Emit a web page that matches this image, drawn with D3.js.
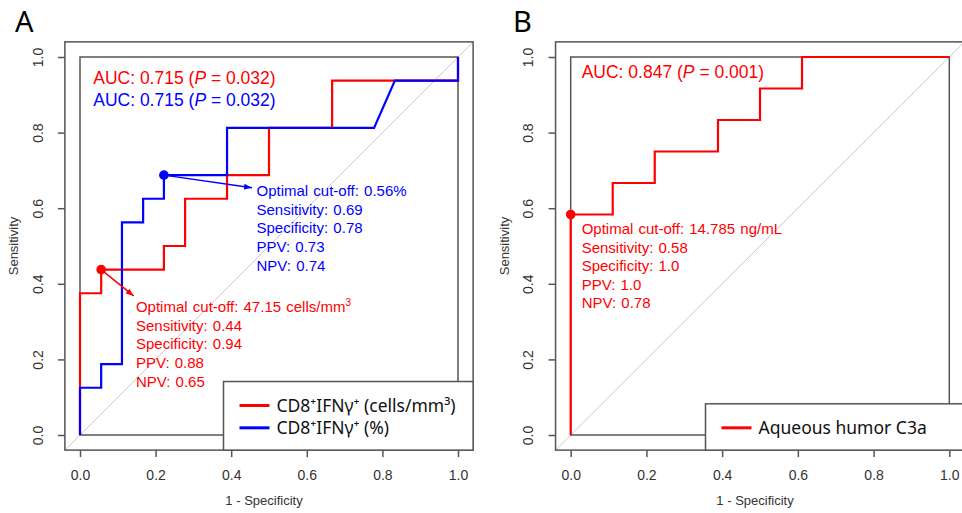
<!DOCTYPE html>
<html>
<head>
<meta charset="utf-8">
<script src="https://cdn.jsdelivr.net/npm/d3@7"></script>
<style>
  body { margin: 0; background: #fff; }
  svg { display: block; }
  text { font-family: "Liberation Sans", Arial, sans-serif; }
</style>
</head>
<body>
<svg id="chart" width="962" height="513"></svg>
<script>
// axis ticks shared by both panels
var axisTicks = [0, 0.2, 0.4, 0.6, 0.8, 1.0];

// panel A, CD8+IFNg+ (cells/mm3)
var cellsFpr  = [0, 0, 0.056, 0.056, 0.222, 0.222, 0.278, 0.278, 0.389, 0.389, 0.5, 0.5, 0.667, 0.667, 1, 1];
var cellsSens = [0, 0.375, 0.375, 0.4375, 0.4375, 0.5, 0.5, 0.625, 0.625, 0.6875, 0.6875, 0.8125, 0.8125, 0.9375, 0.9375, 1];
var cellsCut  = [0.056, 0.4375];

// panel A, CD8+IFNg+ (%)
var pctFpr  = [0, 0, 0.056, 0.056, 0.111, 0.111, 0.167, 0.167, 0.222, 0.222, 0.389, 0.389, 0.778, 0.833, 1, 1];
var pctSens = [0, 0.125, 0.125, 0.1875, 0.1875, 0.5625, 0.5625, 0.625, 0.625, 0.6875, 0.6875, 0.8125, 0.8125, 0.9375, 0.9375, 1];
var pctCut  = [0.222, 0.6875];

// panel B, aqueous humor C3a
var c3aFpr  = [0, 0, 0.111, 0.111, 0.222, 0.222, 0.389, 0.389, 0.5, 0.5, 0.611, 0.611, 1];
var c3aSens = [0, 0.5833, 0.5833, 0.6667, 0.6667, 0.75, 0.75, 0.8333, 0.8333, 0.9167, 0.9167, 1, 1];
var c3aCut  = [0, 0.5833];

var cellsInfo = ["Optimal cut-off: 47.15 cells/mm|3", "Sensitivity: 0.44", "Specificity: 0.94", "PPV: 0.88", "NPV: 0.65"];
var pctInfo   = ["Optimal cut-off: 0.56%", "Sensitivity: 0.69", "Specificity: 0.78", "PPV: 0.73", "NPV: 0.74"];
var c3aInfo   = ["Optimal cut-off: 14.785 ng/mL", "Sensitivity: 0.58", "Specificity: 1.0", "PPV: 1.0", "NPV: 0.78"];

var RED = "#ff0000", BLUE = "#0000ff", BOX = "#555555";

var svg = d3.select("#chart");

function arrowMarker(id, color) {
    svg.append("defs").append("marker")
        .attr("id", id)
        .attr("markerUnits", "userSpaceOnUse")
        .attr("viewBox", "0 -4 8 8")
        .attr("refX", 8).attr("refY", 0)
        .attr("markerWidth", 8).attr("markerHeight", 8)
        .attr("orient", "auto")
      .append("path")
        .attr("d", "M0,-3L8,0L0,3Z")
        .attr("fill", color);
}
arrowMarker("arrowRed", RED);
arrowMarker("arrowBlue", BLUE);

function drawPanel(p) {
    var g = svg.append("g");
    var x = d3.scaleLinear().domain([0, 1]).range([p.left, p.right]);
    var y = d3.scaleLinear().domain([0, 1]).range([p.bottom, p.top]);
    var lo = -0.04, hi = 1.04;

    var clipId = "clip" + p.name;
    g.append("clipPath").attr("id", clipId).append("rect")
        .attr("x", x(lo)).attr("y", y(hi))
        .attr("width", x(hi) - x(lo)).attr("height", y(lo) - y(hi));

    // panel letter
    g.append("text")
        .attr("x", p.letterX).attr("y", 32)
        .style("font-family", "'Noto Sans', sans-serif")
        .style("font-size", "29px")
        .text(p.name);

    // chance line
    g.append("line")
        .attr("clip-path", "url(#" + clipId + ")")
        .attr("x1", x(lo)).attr("y1", y(lo))
        .attr("x2", x(hi + 0.2)).attr("y2", y(hi + 0.2))
        .attr("stroke", "#c8c8c8").attr("stroke-width", 1);

    // inner 0..1 frame
    g.append("rect")
        .attr("x", x(0)).attr("y", y(1))
        .attr("width", x(1) - x(0)).attr("height", y(0) - y(1))
        .attr("fill", "none").attr("stroke", BOX).attr("stroke-width", 1.5);

    // outer plot box
    g.append("rect")
        .attr("x", x(lo)).attr("y", y(hi))
        .attr("width", x(hi) - x(lo)).attr("height", y(lo) - y(hi))
        .attr("fill", "none").attr("stroke", BOX).attr("stroke-width", 1.5);

    // axes
    var xAxis = g.append("g")
        .attr("transform", "translate(0," + y(lo) + ")")
        .call(d3.axisBottom(x).tickValues(axisTicks).tickFormat(d3.format(".1f")).tickSize(7));
    xAxis.select(".domain").remove();
    xAxis.selectAll("line").attr("stroke", BOX).attr("stroke-width", 1.5);
    xAxis.selectAll("text").attr("y", 20).attr("dy", "0.71em")
        .style("font-size", "14px").attr("fill", "#333");

    var yAxis = g.append("g")
        .attr("transform", "translate(" + x(lo) + ",0)")
        .call(d3.axisLeft(y).tickValues(axisTicks).tickFormat(d3.format(".1f")).tickSize(7));
    yAxis.select(".domain").remove();
    yAxis.selectAll("line").attr("stroke", BOX).attr("stroke-width", 1.5);
    yAxis.selectAll("text")
        .attr("x", null)
        .attr("text-anchor", "middle")
        .attr("transform", "translate(-27,0) rotate(-90)")
        .attr("dy", "0.35em")
        .style("font-size", "14px").attr("fill", "#333");

    g.append("text")
        .attr("x", (x(lo) + x(hi)) / 2 - 5).attr("y", 505)
        .attr("text-anchor", "middle")
        .style("font-size", "13px").attr("fill", "#333")
        .text("1 - Specificity");

    g.append("text")
        .attr("transform", "translate(" + (x(lo) - 47) + "," + (y(0.5)) + ") rotate(-90)")
        .attr("text-anchor", "middle")
        .style("font-size", "13px").attr("fill", "#333")
        .text("Sensitivity");

    var line = d3.line().x(function (d) { return x(d[0]); }).y(function (d) { return y(d[1]); });

    p.curves.forEach(function (c) {
        g.append("path")
            .datum(d3.zip(c.fpr, c.sens))
            .attr("d", line)
            .attr("fill", "none")
            .attr("stroke", c.color)
            .attr("stroke-width", 2.2)
            .attr("stroke-linejoin", "miter");
    });

    // AUC labels
    p.auc.forEach(function (a) {
        var t = g.append("text")
            .attr("x", x(a.x)).attr("y", y(a.y))
            .attr("fill", a.color)
            .style("font-size", "17.5px");
        t.append("tspan").text("AUC: " + a.value + " (");
        t.append("tspan").style("font-style", "italic").text("P");
        t.append("tspan").text(" = " + a.p + ")");
    });

    // cut-off points, arrows, info text
    p.cuts.forEach(function (c) {
        if (c.arrow) {
            g.append("line")
                .attr("x1", x(c.point[0])).attr("y1", y(c.point[1]))
                .attr("x2", x(c.arrow[0])).attr("y2", y(c.arrow[1]))
                .attr("stroke", c.color).attr("stroke-width", 1.5)
                .attr("marker-end", "url(#" + c.marker + ")");
        }
        g.append("circle")
            .attr("cx", x(c.point[0])).attr("cy", y(c.point[1]))
            .attr("r", 4.8).attr("fill", c.color);

        c.lines.forEach(function (s, i) {
            var t = g.append("text")
                .attr("x", x(c.text[0]))
                .attr("y", y(c.text[1]) + i * 18.6)
                .attr("fill", c.color)
                .style("font-size", "15px")
                .style("word-spacing", "1px");
            var parts = s.split("|");
            t.append("tspan").text(parts[0]);
            if (parts[1]) {
                t.append("tspan").attr("dy", -6).style("font-size", "10px").text(parts[1]);
            }
        });
    });

    // legend
    var lg = g.append("g");
    var lgTop = y(lo) - p.legend.length * 22.3 - 24;
    lg.append("rect")
        .attr("x", p.legendX).attr("y", lgTop)
        .attr("width", x(hi) - p.legendX).attr("height", y(lo) - lgTop)
        .attr("fill", "#fff").attr("stroke", BOX).attr("stroke-width", 1.5);
    p.legend.forEach(function (l, i) {
        var ly = lgTop + 24 + i * 22.3;
        lg.append("line")
            .attr("x1", p.legendX + 16).attr("x2", p.legendX + 46)
            .attr("y1", ly).attr("y2", ly)
            .attr("stroke", l.color).attr("stroke-width", 3);
        lg.append("text")
            .attr("x", p.legendX + 53).attr("y", ly).attr("dy", "0.36em")
            .style("font-family", "'Noto Sans', sans-serif")
            .style("font-size", "17.5px").attr("fill", "#111")
            .text(l.label);
    });
}

drawPanel({
    name: "A", letterX: 15,
    left: 80, right: 458, top: 57, bottom: 435,
    curves: [
        { fpr: cellsFpr, sens: cellsSens, color: RED },
        { fpr: pctFpr, sens: pctSens, color: BLUE }
    ],
    auc: [
        { value: "0.715", p: "0.032", color: RED, x: 0.035, y: 0.929 },
        { value: "0.715", p: "0.032", color: BLUE, x: 0.035, y: 0.871 }
    ],
    cuts: [
        { point: pctCut, color: BLUE, marker: "arrowBlue", arrow: [0.455, 0.654], text: [0.467, 0.632], lines: pctInfo },
        { point: cellsCut, color: RED, marker: "arrowRed", arrow: [0.142, 0.368], text: [0.148, 0.325], lines: cellsInfo }
    ],
    legendX: 223.5,
    legend: [
        { label: "CD8\u207AIFN\u03B3\u207A (cells/mm\u00B3)", color: RED },
        { label: "CD8\u207AIFN\u03B3\u207A (%)", color: BLUE }
    ]
});

drawPanel({
    name: "B", letterX: 513,
    left: 570.7, right: 949.3, top: 57, bottom: 435,
    curves: [
        { fpr: c3aFpr, sens: c3aSens, color: RED }
    ],
    auc: [
        { value: "0.847", p: "0.001", color: RED, x: 0.029, y: 0.944 }
    ],
    cuts: [
        { point: c3aCut, color: RED, text: [0.029, 0.532], lines: c3aInfo }
    ],
    legendX: 705.5,
    legend: [
        { label: "Aqueous humor C3a", color: RED }
    ]
});
</script>
</body>
</html>
